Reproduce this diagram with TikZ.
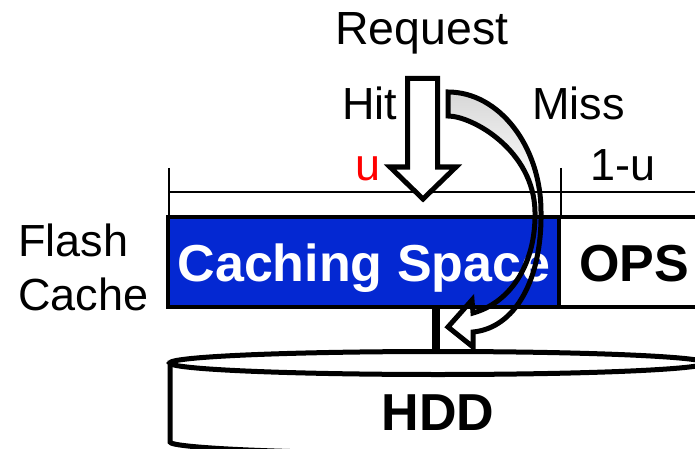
\documentclass[tikz,border=0pt]{standalone}
\usepackage{fontspec}
\setmainfont{Liberation Sans}
\usetikzlibrary{calc,positioning}

\definecolor{cacheblue}{RGB}{4,40,210}
\newcommand{\misspath}{(448,92) .. controls (499,92) and (541,146) .. (541,212)
  .. controls (542,280) and (515,328) .. (473,332) -- (473,347) -- (448,327) -- (472,300)
  -- (473,313) .. controls (512,302) and (536,262) .. (535,212)
  .. controls (534,150) and (472,116) .. (448,116) -- cycle}

\begin{document}
\begin{tikzpicture}[x=1pt,y=-1pt,
  txt/.style={inner sep=0pt,font=\fontsize{45}{54}\selectfont},
  bold/.style={inner sep=0pt,font=\fontsize{52}{60}\selectfont\bfseries},
  thinline/.style={line width=1.8pt},
  thickline/.style={line width=5pt,line join=miter},
  box/.style={draw,line width=4.5pt,inner sep=0pt,outer sep=0pt,minimum height=90pt,anchor=north west}]
  \useasboundingbox (0,0) rectangle (695,449);
  \clip (0,0) rectangle (695,449);
  \fill[white] (0,0) rectangle (695,449);

  \draw[thinline] (169,168) -- (169,217);
  \draw[thinline] (561,168) -- (561,217);
  \draw[thinline] (169,192) -- (710,192);

  \node[box,fill=cacheblue,minimum width=391pt] (cache) at (168,217) {};
  \node[box,fill=white,minimum width=150pt] (ops) at (559,217) {};
  \node[bold,text=white,anchor=base] (cachetxt) at (364,281) {Caching Space};
  \node[bold,anchor=base] (opstxt) at (634,281) {OPS};

  % hdd
  \draw[thickline,fill=white] (170,363) -- (170,442) .. controls (170,448) and (290,453.5) .. (438,453.5)
    -- (706,453.5) -- (706,363) -- cycle;
  \draw[thickline,fill=white] (438,363) ellipse [x radius=268,y radius=11.5];
  \node[bold,anchor=base] (hddtxt) at (438,430) {HDD};
  \coordinate (hddtop) at (436,352);
  \draw[line width=8pt] (cache.south -| hddtop) -- (hddtop);

  \node[txt,anchor=base west] (flash) at (18,256) {Flash};
  \node[txt,anchor=base west] (flashcache) at (18,310) {Cache};
  \node[txt,anchor=base,font=\fontsize{46.5}{54}\selectfont] (req) at (422,45) {Request};
  \node[txt,anchor=base west] (hit) at (342,120) {Hit};
  \node[txt,anchor=base west] (miss) at (532,120) {Miss};
  \node[txt,anchor=base west,red] (u) at (355,180) {u};
  \node[txt,anchor=base west] (oneu) at (590,180) {1-u};

  \draw[thickline,fill=white] (407.5,78.5) -- (437.5,78.5) -- (437.5,167) -- (456,167)
    -- (423,199) -- (390,167) -- (407.5,167) -- cycle;

  \begin{scope}
    \clip \misspath;
    \shade[top color=black!16,bottom color=white] (440,90) rectangle (560,190);
  \end{scope}
  \draw[thickline] \misspath;
\end{tikzpicture}
\end{document}
